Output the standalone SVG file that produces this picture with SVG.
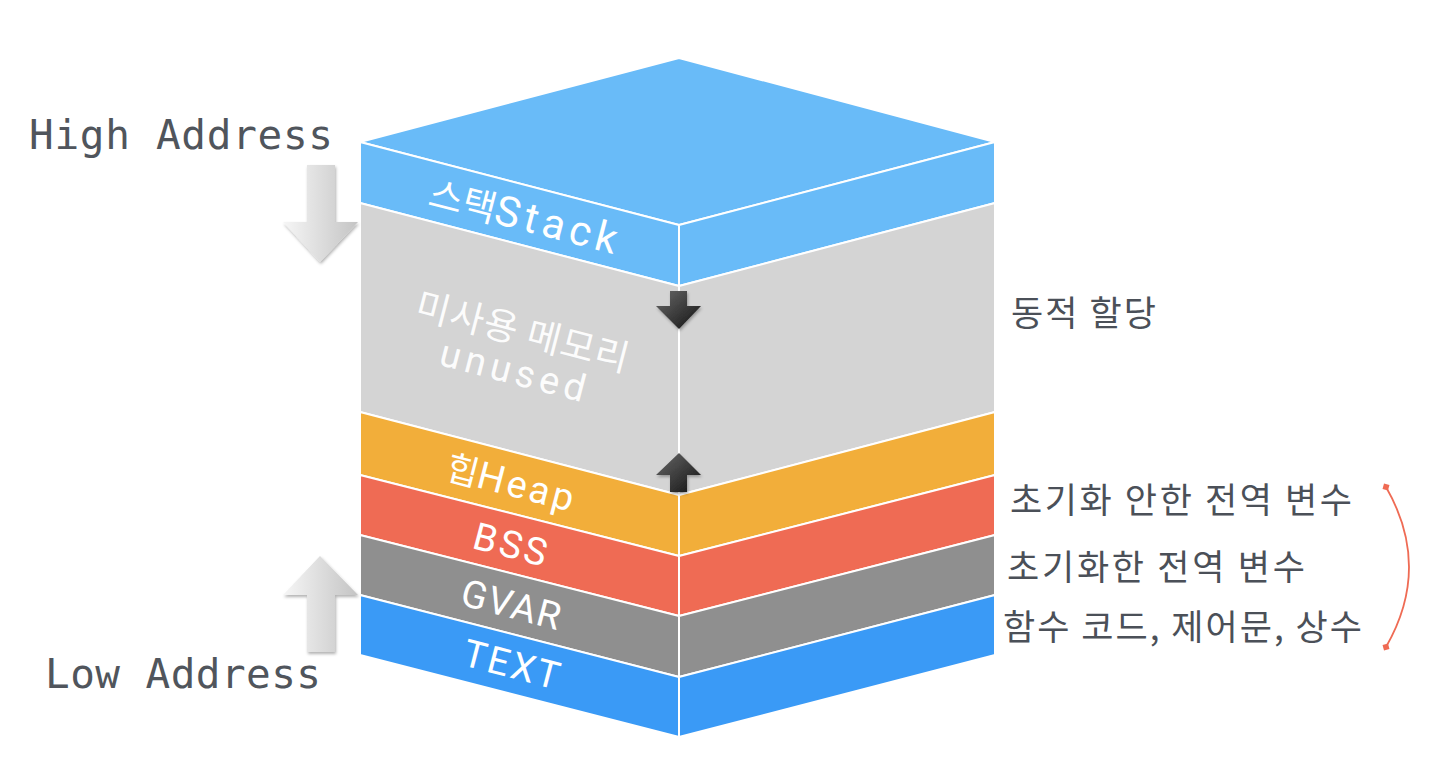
<svg xmlns="http://www.w3.org/2000/svg" width="1440" height="769" viewBox="0 0 1440 769">
<style>
.face{stroke:#ffffff;stroke-width:2;stroke-linejoin:round}
.stack{fill:#69bbf8}
.unused{fill:#d4d4d4}
.heap{fill:#f2ae3a}
.bss{fill:#ef6b54}
.gvar{fill:#8f8f8f}
.text{fill:#3a9af6}
.lbl{font-family:Roboto,"Noto Sans CJK KR",sans-serif;fill:#ffffff;text-anchor:middle;font-size:38px}
.ko{font-family:"Noto Sans CJK KR",sans-serif}
.side{font-family:"Noto Sans CJK KR","Noto Sans",sans-serif;fill:#4b5058;font-size:35px}
.mono{font-family:"DejaVu Sans Mono","Liberation Mono",monospace;fill:#50555c;font-size:41px}
</style>
<defs>
<linearGradient id="gArrow" x1="0" y1="0" x2="1" y2="0">
<stop offset="0" stop-color="#f6f6f6"/>
<stop offset="1" stop-color="#c4c4c4"/>
</linearGradient>
<linearGradient id="bArrow" x1="0" y1="0" x2="1" y2="1">
<stop offset="0" stop-color="#6a6a6a"/>
<stop offset="1" stop-color="#111111"/>
</linearGradient>
<filter id="sh" x="-30%" y="-30%" width="160%" height="160%">
<feDropShadow dx="1" dy="2" stdDeviation="1.5" flood-color="#000" flood-opacity="0.3"/>
</filter>
<marker id="dia" markerWidth="10" markerHeight="10" refX="5" refY="5" orient="auto" markerUnits="userSpaceOnUse">
<path d="M5,1 L9,5 L5,9 L1,5 Z" fill="#ef6b54"/>
</marker>
</defs>

<g id="block-top">
<polygon class="face stack" points="679,58 995,142 679,225 360,142"/>
</g>
<g id="block-stack">
<polygon class="face stack" points="360,142 679,225 679,286 360,203"/>
<polygon class="face stack" points="679,225 995,142 995,203 679,286"/>
<text class="lbl" x="526" y="231" style="font-size:42px" transform="rotate(14.6 526 216)"><tspan class="ko" style="font-size:37px">스택</tspan><tspan letter-spacing="5">Stack</tspan></text>
</g>
<g id="block-unused">
<polygon class="face unused" points="360,203 679,286 679,495 360,412"/>
<polygon class="face unused" points="679,286 995,203 995,412 679,495"/>
<text class="lbl ko" x="523" y="345" letter-spacing="1" style="fill-opacity:0.95;font-size:37px" transform="rotate(14.6 523 332)">미사용 메모리</text>
<text class="lbl" x="512" y="384" letter-spacing="5" style="fill-opacity:0.95" transform="rotate(14.6 512 384)">unused</text>
</g>
<g id="block-heap">
<polygon class="face heap" points="360,412 679,495 679,556 360,475"/>
<polygon class="face heap" points="679,495 995,412 995,475 679,556"/>
<text class="lbl" x="512" y="496" transform="rotate(14.6 512 482)"><tspan class="ko" style="font-size:35px">힙</tspan><tspan letter-spacing="3">Heap</tspan></text>
</g>
<g id="block-bss">
<polygon class="face bss" points="360,475 679,556 679,616 360,535"/>
<polygon class="face bss" points="679,556 995,475 995,535 679,616"/>
<text class="lbl" x="512" y="558" letter-spacing="3" transform="rotate(14.6 512 544)">BSS</text>
</g>
<g id="block-gvar">
<polygon class="face gvar" points="360,535 679,616 679,677 360,595"/>
<polygon class="face gvar" points="679,616 995,535 995,595 679,677"/>
<text class="lbl" x="512" y="618" letter-spacing="1.5" transform="rotate(14.6 512 604)">GVAR</text>
</g>
<g id="block-text">
<polygon class="face text" points="360,595 679,677 679,737 360,655"/>
<polygon class="face text" points="679,677 995,595 995,655 679,737"/>
<text class="lbl" x="513" y="678" letter-spacing="2.5" transform="rotate(14.6 513 664)">TEXT</text>
</g>

<g id="connectors">
<path d="M670,291 H687 V306 H701 L679,329 L656,306 H670 Z" fill="url(#bArrow)" filter="url(#sh)"/>
<path d="M679,453 L701,475 H687 V492 H670 V475 H656 Z" fill="url(#bArrow)" filter="url(#sh)"/>
<path d="M307,165 H335 V222 H358 L320,262 L283,222 H307 Z" fill="url(#gArrow)" filter="url(#sh)"/>
<path d="M320,556 L358,595 H335 V652 H307 V595 H283 Z" fill="url(#gArrow)" filter="url(#sh)"/>
<path d="M1386,487 Q1432,567 1386,647" fill="none" stroke="#ef6b54" stroke-width="1.8" marker-start="url(#dia)" marker-end="url(#dia)"/>
</g>

<g id="label-high">
<text class="mono" x="29" y="149" textLength="304" lengthAdjust="spacing">High Address</text>
</g>
<g id="label-low">
<text class="mono" x="45" y="688" textLength="276" lengthAdjust="spacing">Low Address</text>
</g>
<g id="label-dynamic">
<text class="side" x="1011" y="326" textLength="145" lengthAdjust="spacing">동적 할당</text>
</g>
<g id="label-bss">
<text class="side" x="1010" y="513" textLength="342" lengthAdjust="spacing">초기화 안한 전역 변수</text>
</g>
<g id="label-gvar">
<text class="side" x="1007" y="580" textLength="298" lengthAdjust="spacing">초기화한 전역 변수</text>
</g>
<g id="label-text">
<text class="side" x="1003" y="640" textLength="359" lengthAdjust="spacing">함수 코드, 제어문, 상수</text>
</g>
</svg>
